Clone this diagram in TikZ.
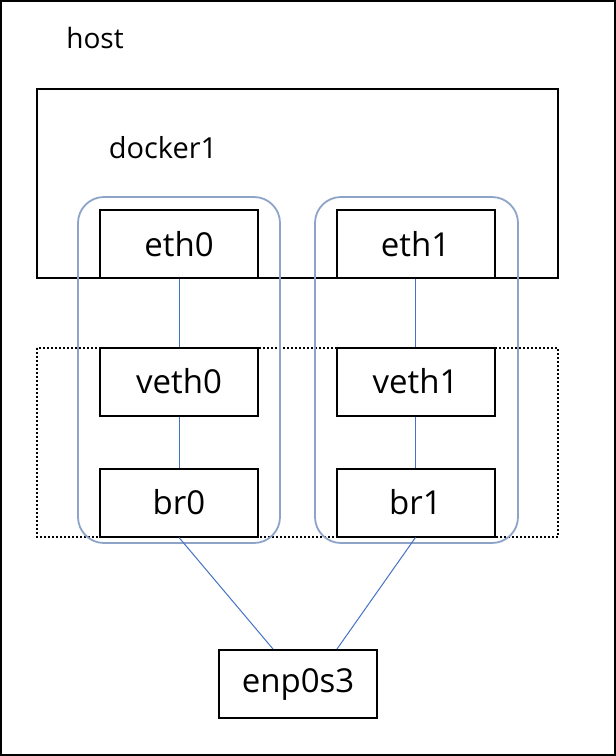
\documentclass[tikz,border=0pt]{standalone}
\usepackage{fontspec}
\setmainfont{Open Sans}
\definecolor{linkblue}{HTML}{4472C4}
\definecolor{pairblue}{HTML}{8EA3C8}
\begin{document}
\begin{tikzpicture}[x=1pt,y=-1pt,
    iface/.style={draw,line width=2pt,minimum width=158pt,minimum height=68pt,
      inner sep=0pt,font=\fontsize{33}{38}\selectfont},
    link/.style={draw=linkblue,line width=1pt},
    pair/.style={draw=pairblue,line width=1.8pt,rounded corners=26pt}]
  \useasboundingbox (0,0) rectangle (616,756);

  % host and docker1
  \draw[line width=2pt] (1,1) rectangle (615,755);
  \node[font=\fontsize{28}{33}\selectfont] (host) at (95,38) {host};
  \draw[line width=2pt] (37,89) rectangle (558,278);
  \node[font=\fontsize{29}{34}\selectfont] (docker) at (163,148) {docker1};

  % bridge area
  \draw[line width=2pt,dotted] (37,348) rectangle (558,537);

  % interfaces
  \node[iface] (eth0) at (179,244) {eth0};
  \node[iface] (eth1) at (415.5,244) {eth1};
  \node[iface] (veth0) at (179,381.5) {veth0};
  \node[iface] (veth1) at (415.5,381.5) {veth1};
  \node[iface] (br0) at (179,502.5) {br0};
  \node[iface] (br1) at (415.5,502.5) {br1};
  \node[iface] (enp) at (298,684) {enp0s3};

  % pairs
  \draw[pair] (78,197) rectangle (280,543);
  \draw[pair] (315,197) rectangle (518,543);

  % links
  \draw[link] (eth0) -- (veth0);
  \draw[link] (veth0) -- (br0);
  \draw[link] (eth1) -- (veth1);
  \draw[link] (veth1) -- (br1);
  \draw[link] (br0.south) -- (enp.north -| 273,0);
  \draw[link] (br1.south) -- (enp.north -| 337,0);
\end{tikzpicture}
\end{document}
